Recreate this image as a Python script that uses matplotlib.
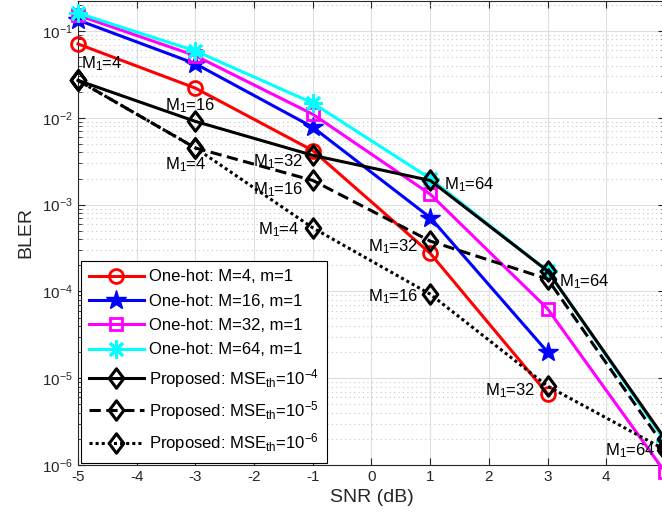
import numpy as np
import matplotlib
matplotlib.use("Agg")
import matplotlib.pyplot as plt
from matplotlib.path import Path
from matplotlib.ticker import FixedLocator, FixedFormatter, NullFormatter

plt.rcParams['font.family'] = ['Liberation Sans', 'DejaVu Sans']
plt.rcParams['mathtext.fontset'] = 'custom'
plt.rcParams['mathtext.rm'] = 'Liberation Sans'
plt.rcParams['mathtext.it'] = 'Liberation Sans:italic'
plt.rcParams['mathtext.bf'] = 'Liberation Sans:bold'
plt.rcParams['mathtext.default'] = 'regular'

# ---------------- data ----------------
snr = [-5, -3, -1, 1, 3, 5]
snr_short = [-5, -3, -1, 1, 3]
onehot_m4 = [0.071, 0.022, 0.0042, 2.75e-4, 6.6e-6]
onehot_m16 = [0.134, 0.042, 0.0078, 7.1e-4, 2.0e-5]
onehot_m32 = [0.152, 0.052, 0.011, 1.32e-3, 6.3e-5, 8.3e-7]
onehot_m64 = [0.161, 0.059, 0.0148, 2.0e-3, 1.72e-4, 1.9e-6]
prop_mse4 = [0.027, 0.0091, 0.0037, 1.9e-3, 1.72e-4, 2.0e-6]
prop_mse5 = [0.027, 0.0045, 0.0019, 3.8e-4, 1.39e-4, 1.6e-6]
prop_mse6 = [0.027, 0.0045, 5.4e-4, 9.3e-5, 8.1e-6, 1.5e-6]

labels = ['One-hot: M=4, m=1', 'One-hot: M=16, m=1', 'One-hot: M=32, m=1',
          'One-hot: M=64, m=1',
          r'Proposed: MSE$_{th}$=10$^{-4}\quad\;$',
          r'Proposed: MSE$_{th}$=10$^{-5}\quad\;$',
          r'Proposed: MSE$_{th}$=10$^{-6}\quad\;$']

ann_text = ['M$_1$=4', 'M$_1$=16', 'M$_1$=4', 'M$_1$=32', 'M$_1$=16', 'M$_1$=4',
            'M$_1$=64', 'M$_1$=32', 'M$_1$=16', 'M$_1$=64', 'M$_1$=32', 'M$_1$=64']
ann_x = [-4.95, -3.51, -3.51, -2.02, -2.02, -1.94, 1.24, -0.06, -0.06, 3.2, 1.93, 3.97]
ann_y = [0.042, 0.014, 0.0029, 0.0031, 0.0015, 5.2e-4, 1.7e-3, 3.3e-4, 8.7e-5, 1.3e-4, 7.1e-6, 1.45e-6]

xticks = [-5, -4, -3, -2, -1, 0, 1, 2, 3, 4, 5]
yticks = [1e-6, 1e-5, 1e-4, 1e-3, 1e-2, 1e-1]
ytick_labels = [r'10$^{-6}$', r'10$^{-5}$', r'10$^{-4}$', r'10$^{-3}$', r'10$^{-2}$', r'10$^{-1}$']

# ---------------- figure ----------------
fig = plt.figure(figsize=(6.62, 5.29), dpi=100)
ax = fig.add_axes([78 / 662, 1 - 465 / 529, (665 - 78) / 662, (465 - 1) / 529])
ax.set_yscale('log')

diamond = Path([(0, 1), (0.75, 0), (0, -1), (-0.75, 0), (0, 1)],
               [Path.MOVETO, Path.LINETO, Path.LINETO, Path.LINETO, Path.CLOSEPOLY])

lw = 2.2
common = dict(lw=lw, clip_on=False, zorder=3)
ax.plot(snr_short, onehot_m4, color='red', marker='o', ms=10, mfc='none', mew=2, label=labels[0], **common)
ax.plot(snr_short, onehot_m16, color='blue', marker='*', ms=15, mfc='blue', mew=1, label=labels[1], **common)
ax.plot(snr, onehot_m32, color='magenta', marker='s', ms=9, mfc='none', mew=2, label=labels[2], **common)
ax.plot(snr, onehot_m64, color='cyan', marker=(8, 2, 0), ms=13, mew=2, label=labels[3], **common)
ax.plot(snr, prop_mse4, color='black', ls='-', marker=diamond, ms=14, mfc='none', mew=2.2, label=labels[4], **common)
ax.plot(snr, prop_mse5, color='black', ls=(0, (3.7, 1.8)), marker=diamond, ms=14, mfc='none', mew=2.2, label=labels[5], **common)
ax.plot(snr, prop_mse6, color='black', ls=(0, (1, 1)), marker=diamond, ms=14, mfc='none', mew=2.2, label=labels[6], **common)

for t, x, y in zip(ann_text, ann_x, ann_y):
    ax.text(x, y, t, fontsize=12, ha='left', va='center', color='black', zorder=5)

ax.set_xlim(-5, 5)
ax.set_ylim(1e-6, 0.222)
ax.xaxis.set_major_locator(FixedLocator(xticks))
ax.set_xticklabels([str(v) for v in xticks])
ax.yaxis.set_major_locator(FixedLocator(yticks))
ax.yaxis.set_major_formatter(FixedFormatter(ytick_labels))
minor = [m * 10.0 ** e for e in range(-6, 0) for m in range(2, 10)]
ax.yaxis.set_minor_locator(FixedLocator(minor))
ax.yaxis.set_minor_formatter(NullFormatter())

gray = (0.15, 0.15, 0.15)
ax.tick_params(axis='both', which='major', direction='in', length=5, width=0.8,
               labelsize=11, colors=gray, top=True, right=True)
ax.tick_params(axis='y', which='minor', direction='in', length=3, width=0.6,
               colors=gray, right=True)
ax.tick_params(axis='x', which='minor', bottom=False, top=False)
for s in ax.spines.values():
    s.set_color(gray)
    s.set_linewidth(0.8)

ax.grid(True, which='major', color=(0.87, 0.87, 0.87), lw=0.8, ls='-', zorder=0)
ax.grid(True, which='minor', axis='y', color=(0.78, 0.78, 0.78), lw=0.8, ls=(0, (1, 3)), zorder=0)
ax.set_axisbelow(True)

ax.set_xlabel('SNR (dB)', fontsize=14, color=gray, labelpad=4)
ax.set_ylabel('BLER', fontsize=14, color=gray, labelpad=6)

leg = ax.legend(loc='lower left', bbox_to_anchor=(0, 0), fontsize=12,
                borderaxespad=0.15, handlelength=3.3, handletextpad=0.3,
                labelspacing=0.56, borderpad=0.5, fancybox=False,
                framealpha=1, edgecolor='black')
leg.get_frame().set_linewidth(0.8)

fig.savefig('out.png', dpi=100)
